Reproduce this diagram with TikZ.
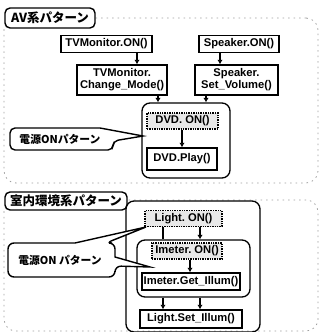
\documentclass[tikz,border=0pt]{standalone}
\usepackage{fontspec}
\setmainfont{Liberation Sans}
\newfontfamily\jp{Noto Sans CJK JP}
\usetikzlibrary{arrows.meta}
\begin{document}
\begin{tikzpicture}[x=1pt,y=-1pt,
  box/.style={draw, line width=1.4pt, fill=white, font=\bfseries\fontsize{11.2}{12}\selectfont, inner sep=0pt, align=center},
  dbox/.style={box, densely dotted, fill=gray!18},
  cont/.style={draw, line width=1.3pt, rounded corners=8pt},
  region/.style={draw=gray!75, dash pattern=on 1.5pt off 4pt, line width=0.8pt, rounded corners=12pt},
  lbl/.style={draw, line width=1.4pt, rounded corners=5pt, fill=white, font=\jp\bfseries\fontsize{12.5}{13}\selectfont, inner sep=0pt},
  ctext/.style={font=\jp\bfseries\fontsize{10.8}{11}\selectfont, inner sep=0pt},
  arr/.style={line width=1.3pt, -{Latex[length=4.5pt,width=5.5pt]}},
  ln/.style={line width=1.3pt},
  call/.style={draw, line width=1.4pt, fill=white}]
\useasboundingbox (0,0) rectangle (322,332);
\fill[white] (0,0) rectangle (322,332);

% ---------- top region ----------
\node[region, minimum width=314pt, minimum height=165pt] (avreg) at (161,100.5) {};
\node[lbl, minimum width=90pt, minimum height=20pt] (avlbl) at (50,18) {AV系パターン};

\node[box, minimum width=91pt, minimum height=17pt] (tvon) at (106.5,44) {TVMonitor.ON()};
\node[box, minimum width=80pt, minimum height=17pt] (spon) at (239,44) {Speaker.ON()};
\node[box, minimum width=90pt, minimum height=30pt] (tvmode) at (122,80) {TVMonitor.\\Change\_Mode()};
\node[box, minimum width=83pt, minimum height=30pt] (spvol) at (236.5,80) {Speaker.\\Set\_Volume()};
\node[cont, minimum width=88pt, minimum height=75pt] (dvdc) at (186,140.5) {};
\node[dbox, minimum width=71pt, minimum height=16pt] (dvdon) at (182.5,121) {DVD.~ON()};
\node[box, minimum width=70pt, minimum height=22pt] (dvdplay) at (182,159) {DVD.Play()};

\coordinate (xa) at (137,0);
\coordinate (xb) at (220,0);
\coordinate (xc) at (158,0);
\coordinate (xd) at (206,0);
\coordinate (xe) at (182,0);
\draw[arr] (tvon.south -| xa) -- (tvmode.north -| xa);
\draw[arr] (spon.south -| xb) -- (spvol.north -| xb);
\draw[arr] (tvmode.south -| xc) -- (dvdc.north -| xc);
\draw[arr] (spvol.south -| xd) -- (dvdc.north -| xd);
\draw[arr] (dvdon.south -| xe) -- (dvdplay.north -| xe);

% callout 1
\draw[call] (100,128) [rounded corners=5pt] -- (10,128) -- (10,150) -- (113,150) -- (113,141) [sharp corners] -- (143,136) -- cycle;
\node[ctext] (co1) at (60,139) {電源ONパターン};

% ---------- bottom region ----------
\node[region, minimum width=314pt, minimum height=131pt] (inreg) at (161,265.5) {};
\node[lbl, minimum width=122pt, minimum height=18pt] (inlbl) at (66,201) {室内環境系パターン};

\node[cont, minimum width=134pt, minimum height=131pt] (outc) at (193,266.5) {};
\node[dbox, minimum width=77pt, minimum height=16pt] (lon) at (183.5,218.5) {Light.~ON()};
\node[cont, minimum width=113pt, minimum height=57pt] (inc) at (193.5,268.5) {};
\node[dbox, minimum width=70pt, minimum height=16pt] (ion) at (187,251) {Imeter.~ON()};
\node[box, minimum width=98pt, minimum height=17pt] (iget) at (191,281.5) {Imeter.Get\_Illum()};
\node[box, minimum width=102pt, minimum height=18pt] (lset) at (191,319) {Light.Set\_Illum()};

\coordinate (xf) at (163,0);
\coordinate (xg) at (200,0);
\coordinate (xh) at (190,0);
\draw[ln] (lon.south -| xf) -- (inc.north -| xf);
\draw[arr] (lon.south -| xg) -- (inc.north -| xg);
\draw[arr] (ion.south -| xh) -- (iget.north -| xh);
\draw[arr] (inc.south -| xf) -- (lset.north -| xf);
\draw[arr] (inc.south -| xg) -- (lset.north -| xg);

% callout 2
\draw[call] (75,243) [rounded corners=6pt] -- (8,243) -- (8,277) -- (115,277) -- (115,266) [sharp corners] -- (150,267) -- (115,257) [rounded corners=6pt] -- (115,243) -- (106,243) [sharp corners] -- (146,227) -- cycle;
\node[ctext] (co2) at (60,260) {電源ON パターン};
\end{tikzpicture}
\end{document}
